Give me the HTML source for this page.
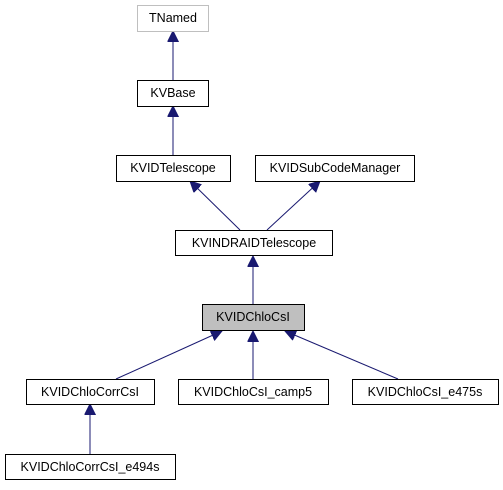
<!DOCTYPE html>
<html><head><style>body{margin:0;background:#fff}</style></head><body>
<svg width="503" height="485" xmlns="http://www.w3.org/2000/svg" font-family="Liberation Sans, sans-serif" font-size="12.5">
<defs><marker id="a" markerWidth="12" markerHeight="12" refX="11" refY="5.5" orient="auto" markerUnits="userSpaceOnUse"><path d="M0,0 L11,5.5 L0,11 Z" fill="#191970" stroke="#191970"/></marker></defs>
<g stroke="#191970" stroke-width="1" fill="none" marker-end="url(#a)">
<line x1="173" y1="80" x2="173" y2="31"/>
<line x1="173" y1="155" x2="173" y2="106"/>
<line x1="240" y1="230" x2="190" y2="181"/>
<line x1="267" y1="230" x2="320" y2="181"/>
<line x1="253" y1="304" x2="253" y2="256"/>
<line x1="116" y1="379" x2="222" y2="331"/>
<line x1="253" y1="379" x2="253" y2="331"/>
<line x1="398" y1="379" x2="285" y2="331"/>
<line x1="90" y1="454" x2="90" y2="404"/>
</g>
<g stroke-width="1">
<rect x="137.5" y="5.5" width="71" height="26" fill="#fff" stroke="#bfbfbf"/>
<rect x="137.5" y="80.5" width="71" height="26" fill="#fff" stroke="#000"/>
<rect x="116.5" y="155.5" width="114" height="26" fill="#fff" stroke="#000"/>
<rect x="255.5" y="155.5" width="159" height="26" fill="#fff" stroke="#000"/>
<rect x="175.5" y="230.5" width="157" height="25" fill="#fff" stroke="#000"/>
<rect x="202.5" y="304.5" width="102" height="26" fill="#bfbfbf" stroke="#000"/>
<rect x="26.5" y="379.5" width="128" height="25" fill="#fff" stroke="#000"/>
<rect x="178.5" y="379.5" width="150" height="25" fill="#fff" stroke="#000"/>
<rect x="352.5" y="379.5" width="146" height="25" fill="#fff" stroke="#000"/>
<rect x="5.5" y="454.5" width="170" height="25" fill="#fff" stroke="#000"/>
</g>
<g text-anchor="middle" fill="#000">
<text x="173" y="22">TNamed</text>
<text x="173" y="97">KVBase</text>
<text x="173" y="172">KVIDTelescope</text>
<text x="335" y="172">KVIDSubCodeManager</text>
<text x="254" y="247">KVINDRAIDTelescope</text>
<text x="253" y="321">KVIDChloCsI</text>
<text x="90" y="396">KVIDChloCorrCsI</text>
<text x="253" y="396">KVIDChloCsI_camp5</text>
<text x="425" y="396">KVIDChloCsI_e475s</text>
<text x="90" y="471">KVIDChloCorrCsI_e494s</text>
</g>
</svg>
</body></html>
